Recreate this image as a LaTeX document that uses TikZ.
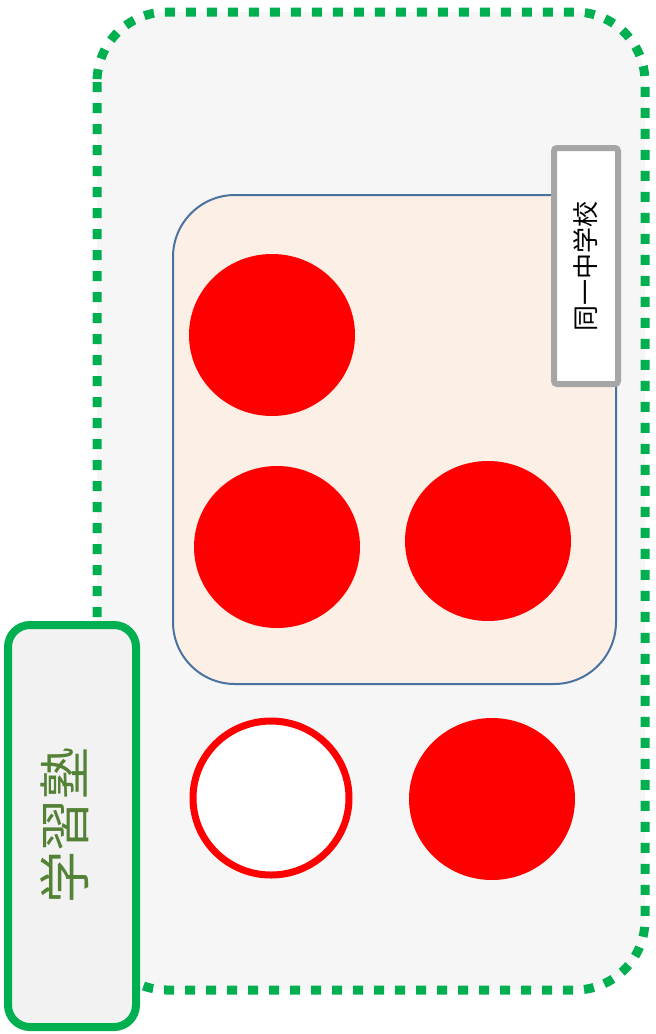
\documentclass[tikz,border=0pt]{standalone}
\usepackage{fontspec}
\usepackage{xcolor}
\newfontfamily\cjk{Noto Sans CJK JP}
\usetikzlibrary{positioning}

\definecolor{zonegreen}{HTML}{00B050}
\definecolor{textgreen}{HTML}{538135}
\definecolor{schoolblue}{HTML}{4A72A0}
\definecolor{schoolfill}{HTML}{FCEFE6}
\definecolor{tagborder}{HTML}{A6A6A6}

\tikzset{
  student/.style={draw=none, fill=red, ellipse, inner sep=0pt},
  outsider/.style={draw=red, line width=7pt, fill=white},
}

\begin{document}
\begin{tikzpicture}
            [x=1pt,y=-1pt,every node/.style={inner sep = 0pt}]
            \useasboundingbox (0,0) rectangle (656,1034);
            % juku area
            \draw[zonegreen, fill=gray!7, line width=9pt, dash pattern=on 10pt off 11pt, rounded corners=70pt]
              (97,12) rectangle (645,990);
            % school area
            \draw[schoolblue, fill=schoolfill, line width=2pt, rounded corners=62pt]
              (173,195) rectangle (616,684);
            \node[draw=tagborder, line width=6pt, fill=white, rounded corners=3pt, minimum width=64pt, minimum height=236pt] (tag) at (586,266) {};
            \node[rotate=90, font=\cjk\fontsize{26}{26}\selectfont] (tagtext) at (tag.center) {同一中学校};
            % students
            \fill[red] (272,335) ellipse (83 and 81) coordinate (s1);
            \fill[red] (277,547) ellipse (83 and 81) coordinate (s2);
            \fill[red] (488,541) ellipse (83 and 80) coordinate (s3);
            \draw[outsider] (271,798) ellipse (78 and 77) coordinate (s4);
            \fill[red] (492,799) ellipse (83 and 81) coordinate (s5);
            % juku label
            \node[draw=zonegreen, line width=8pt, fill=gray!10, rounded corners=22pt, minimum width=128pt, minimum height=402pt] (juku) at (72,826) {};
            \node[rotate=90, text=textgreen, font=\cjk\fontsize{52}{52}\selectfont] (jukutext) at (65,825) {学習塾};
          \end{tikzpicture}
\end{document}
